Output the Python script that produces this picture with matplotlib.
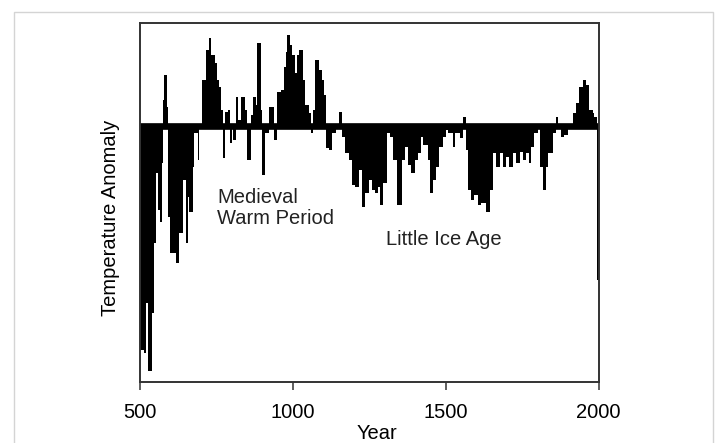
import matplotlib.pyplot as plt
from matplotlib.patches import Rectangle

plt.rcParams['font.family'] = ['Liberation Sans', 'DejaVu Sans']

# Reconstructed temperature anomaly (arbitrary units), piecewise constant
# from each year to the next one in the list.
years = [
    500, 513, 520, 525, 538, 546, 552, 559, 565, 571, 575, 579, 588, 593,
    598, 618, 628, 640, 650, 656, 661, 672, 678, 689, 694, 703, 716, 726,
    732, 745, 752, 758, 765, 770, 778, 788, 794, 801, 804, 814, 820, 830,
    843, 850, 863, 870, 879, 883, 896, 899, 909, 922, 938, 948, 961, 971,
    977, 982, 991, 997, 1007, 1013, 1020, 1033, 1040, 1053, 1059, 1066,
    1071, 1085, 1095, 1102, 1108, 1118, 1128, 1141, 1151, 1161, 1170, 1183,
    1193, 1203, 1216, 1226, 1236, 1249, 1258, 1268, 1278, 1285, 1295, 1308,
    1318, 1327, 1339, 1357, 1367, 1376, 1386, 1399, 1409, 1420, 1425, 1442,
    1448, 1458, 1468, 1478, 1491, 1501, 1507, 1524, 1530, 1546, 1556, 1566,
    1573, 1582, 1592, 1605, 1615, 1631, 1644, 1654, 1664, 1677, 1687, 1697,
    1707, 1720, 1730, 1743, 1752, 1762, 1772, 1779, 1788, 1801, 1808, 1818,
    1826, 1834, 1850, 1860, 1868, 1877, 1886, 1900, 1909, 1916, 1926, 1936,
    1949, 1958, 1968, 1980, 1985, 1994, 2000,
]
anomaly = [
    -22.4, -22.7, -17.7, -24.5, -18.7, -11.7, -4.7, -8.4, -9.6, -3.7, 2.6,
    5.1, 1.9, -9.1, -12.7, -13.7, -10.7, -5.4, -11.7, -7.1, -8.6, -4.1,
    -0.7, -3.4, 0.0, 4.6, 7.6, 8.8, 7.1, 6.3, 4.6, 3.9, 1.6, -3.2, 1.4,
    1.6, -1.7, 0.0, -1.4, 2.9, 0.6, 2.9, 1.6, -3.4, 1.1, 2.9, 2.1, 8.3,
    1.6, -4.9, -0.7, 1.9, -1.4, 3.4, 3.6, 5.9, 7.4, 9.1, 8.1, 7.1, 5.3,
    7.1, 7.6, 4.6, 2.1, 1.3, -0.7, 1.6, 6.6, 5.6, 4.6, 3.1, -2.2, -2.4,
    -0.7, 0.0, 1.4, -1.1, -2.7, -3.4, -5.9, -6.1, -4.4, -8.1, -6.7, -5.4,
    -6.4, -6.7, -6.1, -7.9, -5.7, -0.7, -1.1, -3.4, -7.9, -3.4, -2.1, -3.9,
    -4.7, -3.4, -2.7, -1.1, -1.9, -3.4, -6.7, -5.4, -4.1, -2.1, -1.1, -0.4,
    -0.7, -2.1, -0.7, -1.2, 0.9, -2.4, -6.4, -7.4, -6.9, -7.9, -7.7, -8.6,
    -6.4, -2.7, -4.1, -2.7, -4.1, -3.1, -4.1, -2.7, -3.7, -2.6, -3.4, -2.7,
    -3.7, -2.1, -0.7, 0.0, -4.1, -6.4, -4.1, -2.7, -0.7, 0.9, -0.2, -1.1,
    -0.9, -0.1, 0.0, 1.3, 2.3, 3.9, 4.6, 4.1, 1.6, 1.3, 0.9, -15.4, -15.4,
]

fig = plt.figure(figsize=(7.16, 4.43), dpi=100)
ax = fig.add_axes([0.1955, 0.1377, 0.6407, 0.8097])

ax.fill_between(years, anomaly, 0, step='post', color='black', lw=0)
ax.axhline(0, color='black', lw=4.8)

ax.set_xlim(500, 2000)
ax.set_ylim(-25.6, 10.27)
ax.set_xticks([500, 1000, 1500, 2000])
ax.set_yticks([])
ax.tick_params(axis='x', direction='out', length=6, width=1.1,
               color='#333333', pad=9, labelsize=14.5)
for spine in ax.spines.values():
    spine.set_linewidth(1.4)
    spine.set_color('#333333')

ax.text(752, -6.2, 'Medieval\nWarm Period', ha='left', va='top',
        fontsize=14.5, color='#222222', linespacing=1.1)
ax.text(1304, -10.4, 'Little Ice Age', ha='left', va='top',
        fontsize=14.5, color='#222222')

ax.set_xlabel('Year', fontsize=14.5)
ax.xaxis.set_label_coords(0.517, -0.116)
fig.text(110 / 716, 1 - 218 / 443, 'Temperature Anomaly', rotation=90,
         ha='center', va='center', fontsize=14.5)

# thin grey frame round the whole figure
fig.patches.append(Rectangle((14 / 716, -0.05), 699 / 716, 1.05 - 12 / 443,
                             transform=fig.transFigure, fill=False,
                             edgecolor='#d4d4d4', lw=1.0))

fig.savefig('out.png', dpi=100)
